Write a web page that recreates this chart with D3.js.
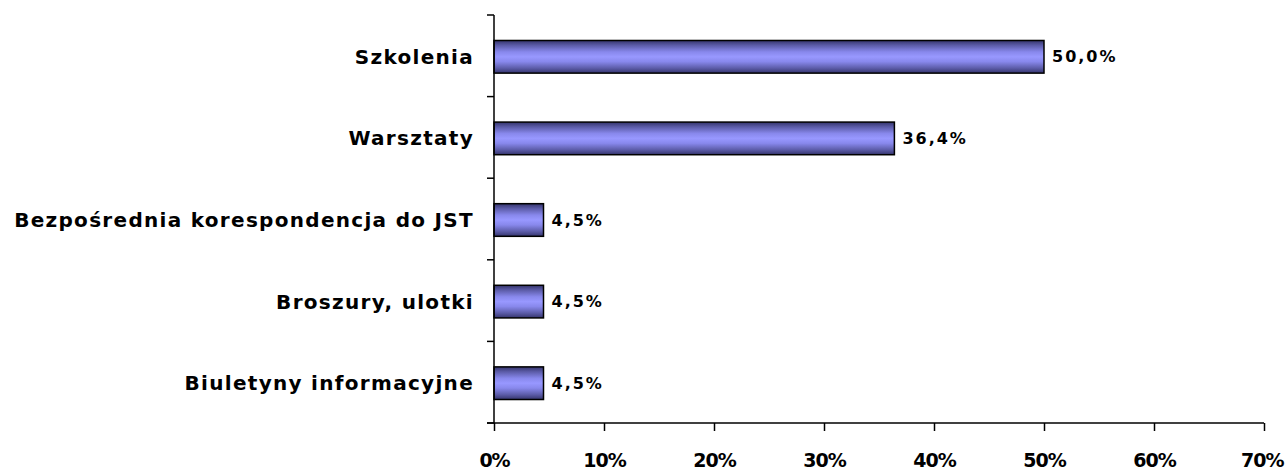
<!DOCTYPE html>
<html><head><meta charset="utf-8">
<script src="https://cdn.jsdelivr.net/npm/d3@7"></script>
<style>body{margin:0;background:#fff}svg{display:block}text{font-family:"DejaVu Sans",sans-serif;font-weight:bold;fill:#000}</style>
</head><body><svg id="c" width="1286" height="473"></svg>
<script>
const categories = ["Szkolenia","Warsztaty","Bezpośrednia korespondencja do JST","Broszury, ulotki","Biuletyny informacyjne"];
const values = [50.0, 36.4, 4.5, 4.5, 4.5];
const valueLabels = ["50,0%","36,4%","4,5%","4,5%","4,5%"];
const xTicks = [0,10,20,30,40,50,60,70];

const svg = d3.select("#c");
const m = {left:494, right:1264, top:15, bottom:423};
const x = d3.scaleLinear().domain([0,70]).range([m.left,m.right]);
const y = d3.scaleBand().domain(categories).range([m.top,m.bottom]).paddingInner(0.6).paddingOuter(0.3);

const defs = svg.append("defs");
const g = defs.append("linearGradient").attr("id","bg").attr("x1",0).attr("y1",0).attr("x2",0).attr("y2",1);
[[0,"#34346c"],[0.15,"#5c5ca8"],[0.35,"#8888ec"],[0.5,"#9898ff"],[0.65,"#8888ec"],[0.85,"#5c5ca8"],[1,"#34346c"]]
  .forEach(([o,c])=>g.append("stop").attr("offset",o).attr("stop-color",c));

// bars
svg.selectAll("rect.bar").data(categories).join("rect").attr("class","bar")
  .attr("x",x(0)).attr("y",d=>y(d)+1)
  .attr("width",(d,i)=>x(values[i])-x(0)).attr("height",y.bandwidth())
  .attr("fill","url(#bg)").attr("stroke","#000").attr("stroke-width",1.5);

// value labels
svg.selectAll("text.val").data(categories).join("text").attr("class","val")
  .attr("x",(d,i)=>x(values[i])+8).attr("y",d=>y(d)+y.bandwidth()/2+1)
  .attr("dy","0.35em").style("font-size","16px").style("letter-spacing","2px")
  .text((d,i)=>valueLabels[i]);

// y axis
const yAxis = svg.append("g").attr("transform",`translate(${m.left},0)`);
yAxis.append("line").attr("x1",0).attr("x2",0).attr("y1",m.top).attr("y2",m.bottom).attr("stroke","#000").attr("stroke-width",1.5);
const bounds = d3.range(categories.length+1).map(i=>m.top + i*(m.bottom-m.top)/categories.length);
yAxis.selectAll("line.tk").data(bounds).join("line").attr("class","tk")
  .attr("x1",-7).attr("x2",0).attr("y1",d=>d).attr("y2",d=>d).attr("stroke","#000").attr("stroke-width",1.5);
yAxis.selectAll("text").data(categories).join("text")
  .attr("x",-20).attr("y",d=>y(d)+y.bandwidth()/2+1).attr("dy","0.35em")
  .attr("text-anchor","end").style("font-size","20px").style("letter-spacing","1.3px").text(d=>d);

// x axis
const xAxis = svg.append("g").attr("transform",`translate(0,${m.bottom})`)
  .call(d3.axisBottom(x).tickValues(xTicks).tickFormat(d=>d+"%").tickSize(8).tickPadding(23));
xAxis.select(".domain").attr("d",`M${m.left-7},0H${m.right}`).attr("stroke","#000").attr("stroke-width",1.5);
xAxis.selectAll(".tick line").attr("stroke","#000").attr("stroke-width",1.5);
xAxis.selectAll(".tick text").style("font-size","19px").style("letter-spacing","-1px").style("font-family","DejaVu Sans").style("font-weight","bold").attr("fill","#000");
xAxis.selectAll(".tick").filter(d=>d===70).select("text").attr("text-anchor","end").attr("x",19);
</script></body></html>
